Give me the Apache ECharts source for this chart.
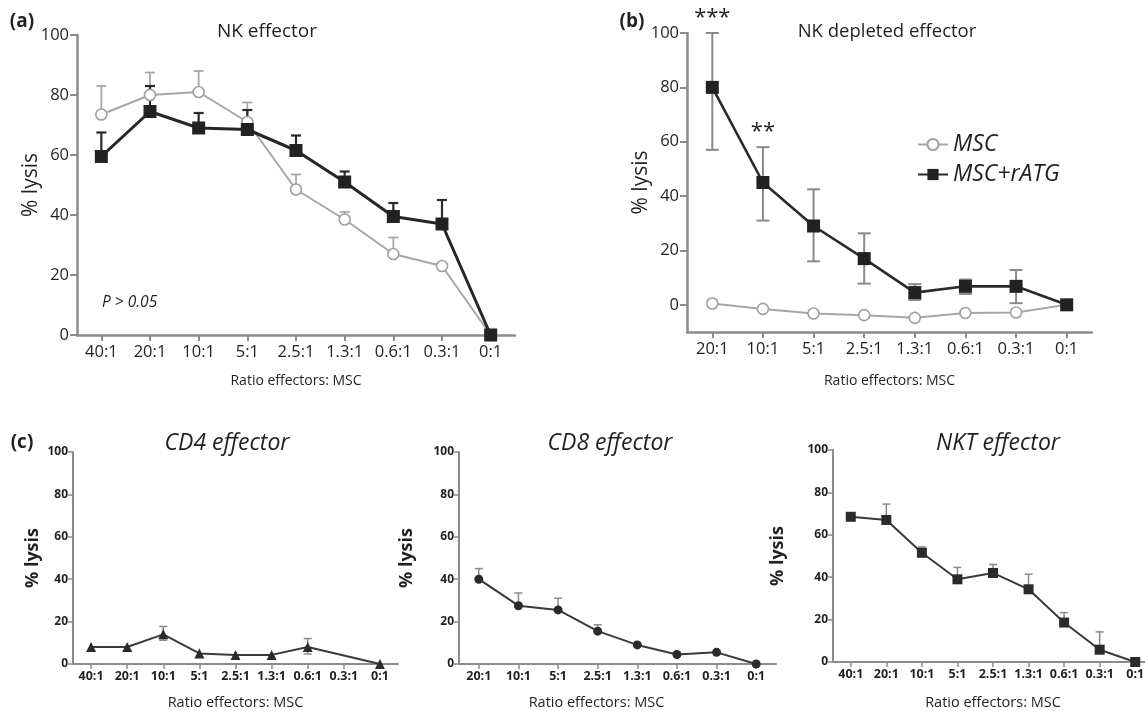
<!DOCTYPE html>
<html><head><meta charset="utf-8">
<script src="https://cdn.jsdelivr.net/npm/echarts@6/dist/echarts.min.js"></script>
<style>html,body{margin:0;padding:0;background:#fff}#c{width:1145px;height:711px}</style>
</head><body><div id="c"></div>
<script>
// ---------- data ----------
const ratiosA = ['40:1','20:1','10:1','5:1','2.5:1','1.3:1','0.6:1','0.3:1','0:1'];
const ratiosB = ['20:1','10:1','5:1','2.5:1','1.3:1','0.6:1','0.3:1','0:1'];
const yTicks = [0, 20, 40, 60, 80, 100];

// (a) NK effector
const aMSC     = [73.5, 80, 81, 71, 48.5, 38.5, 27, 23, 0];
const aMSCHi   = [83, 87.5, 88, 77.5, 53.5, 41, 32.5, null, null];
const aRATG    = [59.5, 74.5, 69, 68.5, 61.5, 51, 39.5, 37, 0];
const aRATGHi  = [67.5, 83, 74, 75, 66.5, 54.5, 44, 45, null];

// (b) NK depleted effector
const bMSC     = [0.5, -1.5, -3.2, -3.8, -4.8, -3, -2.8, 0];
const bMSCHi   = [2, null, null, null, null, null, null, null];
const bMSCLo   = [-1, null, null, null, null, null, null, null];
const bRATG    = [80, 45, 29, 17, 4.5, 6.8, 6.8, 0];
const bRATGHi  = [100, 58, 42.5, 26.3, 7.6, 9.3, 12.8, null];
const bRATGLo  = [57, 31, 16, 7.8, 1.8, 4, 0.6, null];
const bStars   = ['***', '**', '', '', '', '', '', ''];

// (c)
const cd4      = [8, 8, 14, 5, 4.3, 4.3, 8, null, 0];
const cd4Hi    = [null, null, 17.7, null, null, null, 12, null, null];
const cd4Lo    = [null, null, 11.2, null, null, null, 4.7, null, null];
const cd8      = [40, 27.5, 25.5, 15.5, 9, 4.5, 5.5, 0];
const cd8Hi    = [45, 33.5, 31, 18.5, null, null, null, null];
const nkt      = [68.5, 67, 51.5, 39, 42, 34.3, 18.6, 5.8, 0];
const nktHi    = [null, 74.5, 54.3, 44.6, 46, 41.4, 23.3, 14.2, null];

// ---------- helpers ----------
const FONT = "'Open Sans', sans-serif";
const TXT = '#231f20';
const AX = '#8c8c8c';

function errData(vals, hi, lo) {
  const out = [];
  vals.forEach((v, i) => {
    if (hi[i] == null) return;
    const hasLo = lo && lo[i] != null;
    out.push([i, hasLo ? lo[i] : v, hi[i], hasLo ? 1 : 0]);
  });
  return out;
}
function errSeries(ax, data, color, width, cap) {
  return {
    type: 'custom', xAxisIndex: ax, yAxisIndex: ax, silent: true, z: 1,
    encode: { x: 0, y: [1, 2] }, data: data,
    renderItem: function (params, api) {
      const i = api.value(0), lo = api.value(1), hi = api.value(2), capLo = api.value(3);
      const pl = api.coord([i, lo]), ph = api.coord([i, hi]);
      const st = { stroke: color, lineWidth: width };
      const ch = [
        { type: 'line', shape: { x1: pl[0], y1: pl[1], x2: ph[0], y2: ph[1] }, style: st },
        { type: 'line', shape: { x1: ph[0] - cap, y1: ph[1], x2: ph[0] + cap, y2: ph[1] }, style: st }
      ];
      if (capLo) ch.push({ type: 'line', shape: { x1: pl[0] - cap, y1: pl[1], x2: pl[0] + cap, y2: pl[1] }, style: st });
      return { type: 'group', children: ch };
    }
  };
}
function xAx(grid, cats, big, nameGap, namePad) {
  return {
    gridIndex: grid, type: 'category', data: cats, boundaryGap: true,
    axisLine: { show: true, onZero: false, lineStyle: { color: AX, width: big ? 2.5 : 2 } },
    axisTick: { show: true, alignWithLabel: true, length: big ? 6 : 5, lineStyle: { color: AX, width: big ? 2 : 1.5 } },
    axisLabel: { interval: 0, fontSize: big ? 16.5 : 12.5, fontWeight: big ? 'normal' : 'bold', color: TXT, margin: big ? 9 : 6, fontFamily: FONT },
    splitLine: { show: false },
    name: 'Ratio effectors: MSC', nameLocation: 'middle', nameGap: nameGap, nameMoveOverlap: false,
    nameTextStyle: { fontSize: big ? 14 : 14.5, color: TXT, fontFamily: FONT, padding: namePad || 0 }
  };
}
function yAx(grid, min, big, nameGap) {
  return {
    gridIndex: grid, type: 'value', min: min, max: 100,
    axisLine: { show: true, lineStyle: { color: AX, width: big ? 2.5 : 2 } },
    axisTick: { show: true, length: big ? 7 : 5, lineStyle: { color: AX, width: big ? 2 : 1.5 }, customValues: yTicks },
    axisLabel: { fontSize: big ? 16.5 : 12, fontWeight: big ? 'normal' : 'bold', color: TXT, margin: big ? 8 : 5, fontFamily: FONT, customValues: yTicks },
    splitLine: { show: false },
    name: '% lysis', nameLocation: 'middle', nameGap: nameGap, nameMoveOverlap: false,
    nameTextStyle: { fontSize: big ? 21 : 18, fontWeight: big ? 'normal' : 'bold', color: TXT, fontFamily: FONT }
  };
}
function txt(text, x, y, font, align) {
  return { type: 'text', x: x, y: y, silent: true,
    style: { text: text, font: font, fill: TXT, textAlign: align || 'center', align: align || 'center', textVerticalAlign: 'middle', verticalAlign: 'middle' } };
}

const starPoints = [];
bStars.forEach((s, i) => {
  if (s) starPoints.push({ name: s, coord: [ratiosB[i], bRATGHi[i]] });
});

const option = {
  animation: false,
  textStyle: { fontFamily: FONT },
  grid: [
    { left: 77,  top: 35,  width: 438, height: 300, outerBoundsMode: 'none' },
    { left: 687, top: 33,  width: 405, height: 299, outerBoundsMode: 'none' },
    { left: 73,  top: 452, width: 325, height: 212, outerBoundsMode: 'none' },
    { left: 459, top: 452, width: 317, height: 212, outerBoundsMode: 'none' },
    { left: 833, top: 450, width: 320, height: 212, outerBoundsMode: 'none' }
  ],
  xAxis: [
    xAx(0, ratiosA, true, 39),
    xAx(1, ratiosB, true, 42),
    xAx(2, ratiosA, false, 31),
    xAx(3, ratiosB, false, 31, [0, 42, 0, 0]),
    xAx(4, ratiosA, false, 33)
  ],
  yAxis: [
    yAx(0, 0, true, 35),
    yAx(1, -10, true, 35),
    yAx(2, 0, false, 31),
    yAx(3, 0, false, 43),
    yAx(4, 0, false, 46)
  ],
  legend: {
    data: ['MSC', 'MSC+rATG'], orient: 'vertical', left: 917, top: 133, padding: 0,
    itemWidth: 30, itemHeight: 14, itemGap: 7, selectedMode: false,
    textStyle: { fontSize: 23, fontStyle: 'italic', color: TXT, fontFamily: FONT }
  },
  series: [
    // (a)
    errSeries(0, errData(aMSC, aMSCHi), '#a8a8a8', 1.8, 5),
    errSeries(0, errData(aRATG, aRATGHi), '#2a2a2a', 2.2, 5),
    { name: 'MSC', type: 'line', xAxisIndex: 0, yAxisIndex: 0, data: aMSC, z: 3,
      symbol: 'circle', symbolSize: 11, itemStyle: { color: '#fff', borderColor: '#a0a0a0', borderWidth: 1.6 },
      lineStyle: { color: '#a6a6a6', width: 2 } },
    { name: 'MSC+rATG', type: 'line', xAxisIndex: 0, yAxisIndex: 0, data: aRATG, z: 4,
      symbol: 'rect', symbolSize: 13, itemStyle: { color: '#222' }, lineStyle: { color: '#262626', width: 3 } },
    // (b)
    errSeries(1, errData(bMSC, bMSCHi, bMSCLo), '#b0b0b0', 1.5, 5),
    errSeries(1, errData(bRATG, bRATGHi, bRATGLo), '#8a8a8a', 2, 6.5),
    { name: 'MSC', type: 'line', xAxisIndex: 1, yAxisIndex: 1, data: bMSC, z: 3,
      symbol: 'circle', symbolSize: 11, itemStyle: { color: '#fff', borderColor: '#a0a0a0', borderWidth: 1.6 },
      lineStyle: { color: '#a6a6a6', width: 2 } },
    { name: 'MSC+rATG', type: 'line', xAxisIndex: 1, yAxisIndex: 1, data: bRATG, z: 4,
      symbol: 'rect', symbolSize: 13, itemStyle: { color: '#222' }, lineStyle: { color: '#2a2a2a', width: 2.6 },
      markPoint: { symbol: 'circle', symbolSize: 0, silent: true,
        label: { show: true, formatter: '{b}', fontSize: 22, color: TXT, offset: [0, -15], fontFamily: FONT },
        data: starPoints } },
    // (c) CD4
    errSeries(2, errData(cd4, cd4Hi, cd4Lo), '#8a8a8a', 1.5, 4),
    { name: 'CD4', type: 'line', xAxisIndex: 2, yAxisIndex: 2, data: cd4, connectNulls: true, z: 3,
      symbol: 'triangle', symbolSize: 10, itemStyle: { color: '#2a2a2a' }, lineStyle: { color: '#3a3a3a', width: 2 } },
    // CD8
    errSeries(3, errData(cd8, cd8Hi), '#8a8a8a', 1.5, 4),
    { name: 'CD8', type: 'line', xAxisIndex: 3, yAxisIndex: 3, data: cd8, z: 3,
      symbol: 'circle', symbolSize: 9, itemStyle: { color: '#2a2a2a' }, lineStyle: { color: '#3a3a3a', width: 2 } },
    // NKT
    errSeries(4, errData(nkt, nktHi), '#8a8a8a', 1.5, 4),
    { name: 'NKT', type: 'line', xAxisIndex: 4, yAxisIndex: 4, data: nkt, z: 3,
      symbol: 'rect', symbolSize: 10, itemStyle: { color: '#2a2a2a' }, lineStyle: { color: '#3a3a3a', width: 2 } }
  ],
  graphic: [
    txt('(a)', 22, 22, 'bold 19px ' + FONT),
    txt('(b)', 632, 22, 'bold 19px ' + FONT),
    txt('(c)', 22, 443, 'bold 19px ' + FONT),
    txt('NK effector', 267, 32, '19px ' + FONT),
    txt('NK depleted effector', 887, 32, '18.5px ' + FONT),
    txt('CD4 effector', 227, 443, 'italic 23px ' + FONT),
    txt('CD8 effector', 610, 443, 'italic 23px ' + FONT),
    txt('NKT effector', 998, 443, 'italic 23px ' + FONT),
    txt('P > 0.05', 102, 303, 'italic 15.5px ' + FONT, 'left')
  ]
};
const chart = echarts.init(document.getElementById('c'), null, { renderer: 'canvas' });
chart.setOption(option);
</script></body></html>
